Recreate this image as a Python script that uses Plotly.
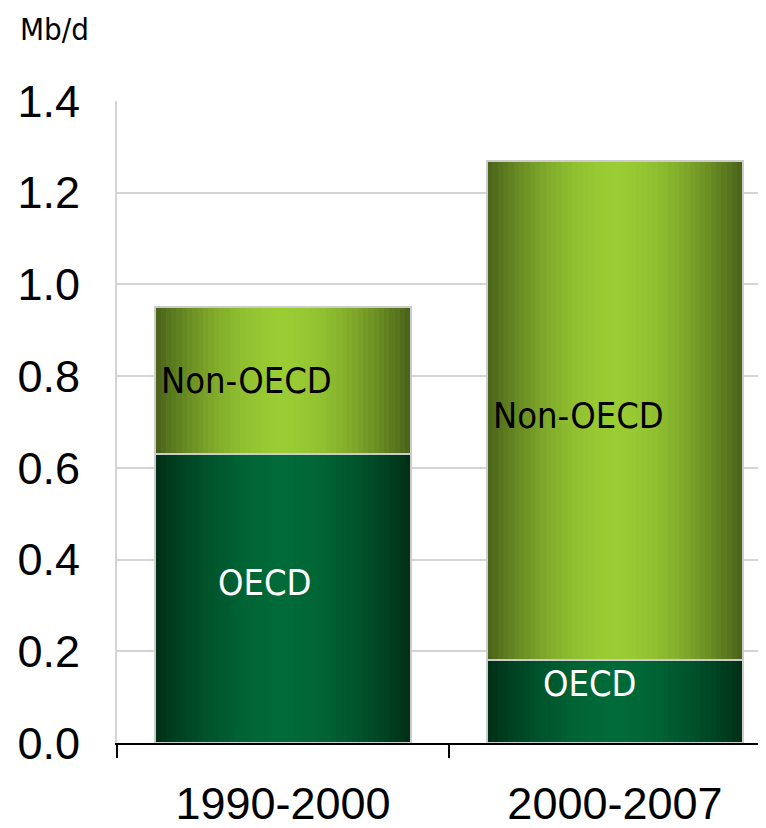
import plotly.graph_objects as go

# ---- data ----
categories = ["1990-2000", "2000-2007"]
oecd = [0.63, 0.18]
non_oecd = [0.32, 1.09]
y_ticks = [0.0, 0.2, 0.4, 0.6, 0.8, 1.0, 1.2, 1.4]
y_tick_text = ["0.0", "0.2", "0.4", "0.6", "0.8", "1.0", "1.2", "1.4"]
unit_label = "Mb/d"

# label placement: (text, category index, x shift, y, anchor, colour)
seg_labels = [
    ("Non-OECD", 0, -0.372, 0.79, "left", "#000000"),
    ("OECD", 0, -0.055, 0.35, "center", "#ffffff"),
    ("Non-OECD", 1, -0.372, 0.715, "left", "#000000"),
    ("OECD", 1, -0.075, 0.13, "center", "#ffffff"),
]

# ---- style ----
BW = 0.77
N = 48
non_edge, non_mid = (72, 97, 25), (154, 204, 51)
oecd_edge, oecd_mid = (0, 46, 22), (0, 106, 56)
NARROW = "DejaVu Sans Condensed"


def shade(edge, mid, u):
    t = abs(u - 0.5) * 2
    f = t ** 1.8
    return "rgb(%d,%d,%d)" % tuple(round(m + (e - m) * f) for e, m in zip(edge, mid))


fig = go.Figure()
step = BW / N
for i in range(N):
    u = (i + 0.5) / N
    off = -BW / 2 + i * step
    w = min(step * 1.6, BW / 2 - off)
    fig.add_trace(go.Bar(x=categories, y=oecd, base=[0] * len(oecd), width=w, offset=off,
                         marker=dict(color=shade(oecd_edge, oecd_mid, u), line=dict(width=0)),
                         showlegend=False, hoverinfo="skip"))
    fig.add_trace(go.Bar(x=categories, y=non_oecd, base=oecd, width=w, offset=off,
                         marker=dict(color=shade(non_edge, non_mid, u), line=dict(width=0)),
                         showlegend=False, hoverinfo="skip"))

# outlines
fig.add_trace(go.Bar(x=categories, y=oecd, base=[0] * len(oecd), width=BW,
                     marker=dict(color="rgba(0,0,0,0)", line=dict(color="#cccccc", width=2)),
                     showlegend=False, name="OECD"))
fig.add_trace(go.Bar(x=categories, y=non_oecd, base=oecd, width=BW,
                     marker=dict(color="rgba(0,0,0,0)", line=dict(color="#cccccc", width=2)),
                     showlegend=False, name="Non-OECD"))

for text, ci, dx, yv, anc, col in seg_labels:
    fig.add_annotation(x=ci + dx, y=yv, xref="x", yref="y", text=text, showarrow=False,
                       xanchor=anc, yanchor="middle",
                       font=dict(family=NARROW, size=36, color=col))

fig.add_annotation(xref="paper", yref="paper", x=-0.152, y=1.112, text=unit_label,
                   showarrow=False, xanchor="left", yanchor="middle",
                   font=dict(family=NARROW, size=31, color="#000000"))

# the page body adds an 8px offset, so the figure is 8px smaller than the window
fig.update_layout(
    width=758, height=820,
    margin=dict(l=109, r=0, t=93, b=85, pad=0, autoexpand=False),
    plot_bgcolor="white", paper_bgcolor="white",
    barmode="overlay", bargap=0,
    font=dict(family="Liberation Sans, Arial, sans-serif", size=45, color="#000000"),
    xaxis=dict(type="category", range=[-0.5, 1.455], tickvals=categories, ticktext=categories,
               showgrid=False, zeroline=False, showline=True, linecolor="#000000", linewidth=1.5,
               ticks="outside", tickson="boundaries", ticklen=13, tickcolor="#000000", tickwidth=1.5,
               ticklabelstandoff=20, automargin=False),
    yaxis=dict(range=[0, 1.4], tickmode="array", tickvals=y_ticks, ticktext=y_tick_text,
               showgrid=True, gridcolor="#d4d4d4", gridwidth=2, zeroline=False,
               showline=True, linecolor="#d4d4d4", linewidth=2, ticks="", ticklabelstandoff=26,
               automargin=False),
)

fig.write_html("out.html")
